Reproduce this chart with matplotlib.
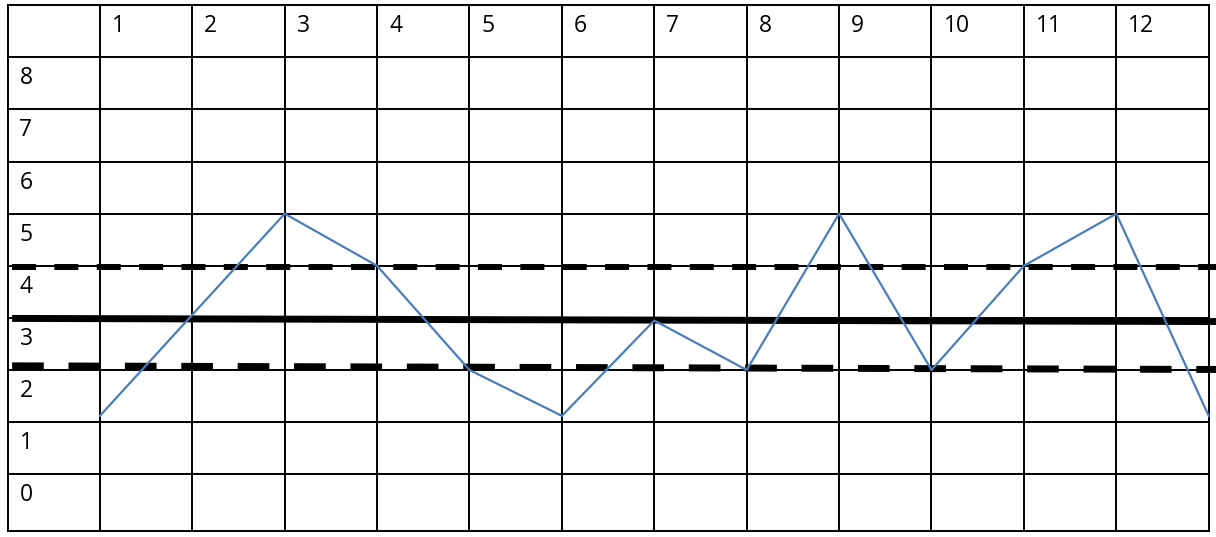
import matplotlib.pyplot as plt
import numpy as np

plt.rcParams['font.family'] = ['Open Sans', 'DejaVu Sans']
plt.rcParams['lines.scale_dashes'] = False

# table labels
col_labels = ['1', '2', '3', '4', '5', '6', '7', '8', '9', '10', '11', '12']
row_labels = ['8', '7', '6', '5', '4', '3', '2', '1', '0']

# blue zigzag series (x at column edges)
blue_x = [1, 3, 4, 5, 6, 7, 8, 9, 10, 11, 12, 13]
blue_y = [1.12, 5, 4, 2, 1.12, 2.95, 2, 5, 2, 4, 5, 1.12]

# black reference lines (start, end)
ref_x = [0.05, 13.08]
mid_y = [2.99, 2.93]
upper_y = [3.97, 3.97]
lower_y = [2.08, 2.01]

W, H = 1216, 537
fig = plt.figure(figsize=(W / 100, H / 100), dpi=100)
left_px, right_px = 7.5, 1216
top_px, bot_px = 5.3, 531
col_w = 92.4
unit = 52.1
ax = fig.add_axes([left_px / W, (H - bot_px) / H,
                   (right_px - left_px) / W, (bot_px - top_px) / H])
y_bottom = 9 - (bot_px - top_px) / unit
ax.set_xlim(0, (right_px - left_px) / col_w)
ax.set_ylim(y_bottom, 9)
ax.axis('off')

ncols = len(col_labels) + 1
# grid
for k in range(ncols + 1):
    ax.plot([k, k], [y_bottom, 9], color='black', lw=1.4, clip_on=False, zorder=1)
for v in list(range(0, 10)) + [y_bottom]:
    ax.plot([0, ncols], [v, v], color='black', lw=1.4, clip_on=False, zorder=1)

# labels
for i, lab in enumerate(col_labels):
    ax.annotate(lab, xy=(i + 1, 9), xytext=(12, -27), textcoords='offset pixels',
                fontsize=16.5, ha='left', va='baseline', color='black')
for i, lab in enumerate(row_labels):
    ax.annotate(lab, xy=(0, 8 - i), xytext=(12, -27), textcoords='offset pixels',
                fontsize=16.5, ha='left', va='baseline', color='black')

# reference lines
ax.plot(ref_x, mid_y, color='black', lw=5.0, solid_capstyle='butt', clip_on=False, zorder=2)
ax.plot(ref_x, upper_y, color='black', lw=4.3, dashes=(17.3, 13.2), clip_on=False, zorder=2)
ax.plot(ref_x, lower_y, color='black', lw=5.0, dashes=(22.8, 17.8), clip_on=False, zorder=2)

# zigzag
ax.plot(blue_x, blue_y, color='#4A7EBB', lw=1.6, clip_on=False, zorder=3)

fig.savefig('out.png', dpi=100, facecolor='white')
